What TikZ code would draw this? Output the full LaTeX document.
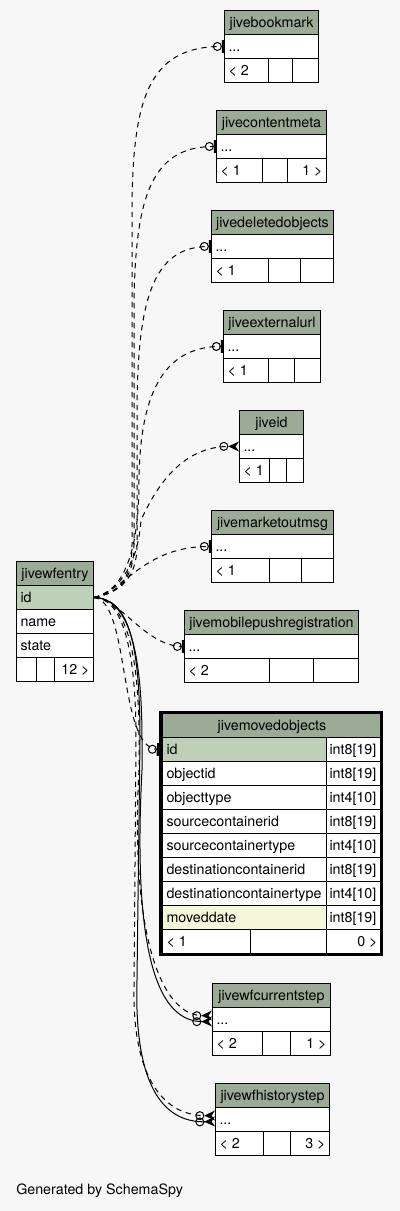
\documentclass[tikz,border=0pt]{standalone}
\usepackage{fontspec}
\setmainfont{TeX Gyre Heros}
\usetikzlibrary{arrows.meta}
\definecolor{pagegray}{RGB}{247,247,247}
\definecolor{headgreen}{RGB}{155,171,150}
\definecolor{keygreen}{RGB}{190,209,184}
\definecolor{idxyellow}{RGB}{244,247,218}

\begin{document}
\begin{tikzpicture}[x=0.75pt, y=-0.75pt, font=\fontsize{10.7}{12}\selectfont,
    cell/.style={draw, line width=0.75pt, fill=white, anchor=north west, inner xsep=3pt, inner ysep=0pt,
      minimum height=18pt, text height=8.5pt, text depth=1.5pt, align=flush left},
    head/.style={cell, fill=headgreen, inner xsep=1pt, align=flush center},
    rel/.style={line width=0.75pt},
    implied/.style={rel, dash pattern=on 4pt off 3.5pt},
    zeroone/.style={-{Circle[open, length=6.75pt, width=6.75pt, sep=0pt] Bar[width=9.5pt, line width=1.6pt, sep=0pt]}},
    zeromany/.style={-{Circle[open, length=6.75pt, width=6.75pt, sep=0pt] Stealth[reversed, length=8pt, width=7.5pt, sep=0pt]}}]

  \fill[pagegray] (0,0) rectangle (400,1211);

  \foreach \tname/\xl/\xr/\ty/\xa/\xb/\la/\lb in {
      bookmark/224/318/10/268/292/{< 2}/{},
      contentmeta/216/326/110/262/287/{< 1}/{1 >},
      deletedobjects/211/333/210/268/300/{< 1}/{},
      externalurl/223/320/310/268/294/{< 1}/{},
      id/239/303/410/269/286/{< 1}/{},
      marketoutmsg/211/333/510/269/301/{< 1}/{},
      mobilepushregistration/184/358/610/269/313/{< 2}/{},
      wfcurrentstep/212/330/983/262/290/{< 2}/{1 >},
      wfhistorystep/215/329/1083/263/290/{< 2}/{3 >}} {
    \pgfmathsetmacro\wt{(\xr-\xl)*0.75-2}
    \pgfmathsetmacro\wh{(\xr-\xl)*0.75-6}
    \pgfmathsetmacro\wa{(\xa-\xl)*0.75-6}
    \pgfmathsetmacro\wb{(\xb-\xa)*0.75-6}
    \pgfmathsetmacro\wc{(\xr-\xb)*0.75-6}
    \node[head, text width=\wt pt] (\tname) at (\xl,\ty) {jive\tname};
    \node[cell, text width=\wh pt] (\tname-row) at (\xl,\ty+24) {...};
    \node[cell, text width=\wa pt] (\tname-fa) at (\xl,\ty+48) {\la};
    \node[cell, text width=\wb pt] (\tname-fb) at (\xa,\ty+48) {};
    \node[cell, text width=\wc pt, align=flush right] (\tname-fc) at (\xb,\ty+48) {\lb};
  }

  \node[head, text width=55.75pt] (wfentry) at (16,561) {jivewfentry};
  \node[cell, fill=keygreen, text width=51.75pt] (wfentry-id) at (16,585) {id};
  \node[cell, text width=51.75pt] (wfentry-name) at (16,609) {name};
  \node[cell, text width=51.75pt] (wfentry-state) at (16,633) {state};
  \node[cell, text width=9pt] (wfentry-fa) at (16,657) {};
  \node[cell, text width=7.5pt] (wfentry-fb) at (36,657) {};
  \node[cell, text width=23.25pt, align=flush right] (wfentry-fc) at (54,657) {12 >};

  \node[head, text width=162.25pt] (movedobjects) at (162,713) {jivemovedobjects};
  \foreach \col/\type/\fcol [count=\i] in {
      id/int8[19]/keygreen,
      objectid/int8[19]/white,
      objecttype/int4[10]/white,
      sourcecontainerid/int8[19]/white,
      sourcecontainertype/int4[10]/white,
      destinationcontainerid/int8[19]/white,
      destinationcontainertype/int4[10]/white,
      moveddate/int8[19]/idxyellow} {
    \node[cell, fill=\fcol, text width=116.8pt] (moved-\col) at (162,713+24*\i) {\col};
    \node[cell, inner xsep=2.5pt, text width=36.5pt] (moved-\col-type) at (325.7,713+24*\i) {\type};
  }
  \node[cell, text width=60pt] (moved-fa) at (162,929) {< 1};
  \node[cell, text width=50.8pt] (moved-fb) at (250,929) {};
  \node[cell, text width=35.5pt, align=flush right] (moved-fc) at (325.7,929) {0 >};
  \draw[line width=2.25pt] (160.5,712) rectangle (381.5,954.5);

  \draw[implied, zeroone] (wfentry-id.east) .. controls (118,593) and (132,580) .. (132,545) -- (132,216)
    .. controls (132,101) and (147,46) .. (bookmark-row.west);
  \draw[implied, zeroone] (wfentry-id.east) .. controls (118,593) and (134,580) .. (134,545) -- (134,316)
    .. controls (134,201) and (149,146) .. (contentmeta-row.west);
  \draw[implied, zeroone] (wfentry-id.east) .. controls (118,593) and (137,580) .. (137,545) -- (137,416)
    .. controls (137,301) and (152,246) .. (deletedobjects-row.west);
  \draw[implied, zeroone] (wfentry-id.east) .. controls (118,592) and (139,565) .. (139,480)
    .. controls (140,400) and (160,346) .. (externalurl-row.west);
  \draw[implied, zeromany] (wfentry-id.east) .. controls (118,592) and (138,565) .. (141,520)
    .. controls (155,490) and (180,446) .. (id-row.west);
  \draw[implied, zeroone] (wfentry-id.east) .. controls (125,590) and (145,546) .. (marketoutmsg-row.west);
  \draw[implied, zeroone] (wfentry-id.east) .. controls (120,598) and (145,646) .. (mobilepushregistration-row.west);
  \draw[implied, zeroone] (wfentry-id.east) .. controls (130,600) and (118,748) .. ([xshift=-2.25pt]moved-id.west);

  \draw[rel, zeromany] (wfentry-id.east) .. controls (125,598) and (142,640) .. (142,740) -- (142,770)
    .. controls (132,960) and (160,1022) .. ([yshift=-1.5pt]wfcurrentstep-row.west);
  \draw[implied, zeromany] (wfentry-id.east) .. controls (122,598) and (139,640) .. (139,740) -- (139,770)
    .. controls (130,930) and (160,1016) .. ([yshift=3pt]wfcurrentstep-row.west);
  \draw[rel, zeromany] (wfentry-id.east) .. controls (128,598) and (140,640) .. (140,740) -- (137,980)
    .. controls (134,1080) and (160,1123) .. ([yshift=-1.5pt]wfhistorystep-row.west);
  \draw[implied, zeromany] (wfentry-id.east) .. controls (120,598) and (136,640) .. (136,740) -- (134,990)
    .. controls (133,1080) and (165,1116) .. ([yshift=3pt]wfhistorystep-row.west);

  \node[anchor=west, inner xsep=0pt] (credit) at (16,1191) {Generated by SchemaSpy};
\end{tikzpicture}
\end{document}
